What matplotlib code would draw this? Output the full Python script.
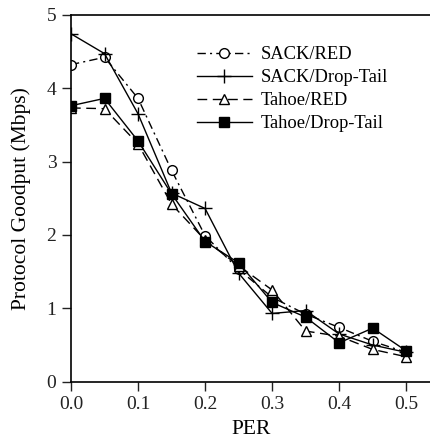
import matplotlib
matplotlib.use("Agg")
import matplotlib.pyplot as plt

plt.rcParams['font.family'] = ['Liberation Serif', 'DejaVu Serif']

per = [0.0, 0.05, 0.1, 0.15, 0.2, 0.25, 0.3, 0.35, 0.4, 0.45, 0.5]
sack_red = [4.32, 4.42, 3.86, 2.88, 1.99, 1.53, 1.15, 0.92, 0.74, 0.55, 0.40]
sack_droptail = [4.74, 4.47, 3.65, 2.57, 2.36, 1.48, 0.93, 0.97, 0.65, 0.50, 0.40]
tahoe_red = [3.73, 3.72, 3.24, 2.42, 1.93, 1.58, 1.25, 0.69, 0.62, 0.44, 0.34]
tahoe_droptail = [3.76, 3.86, 3.28, 2.56, 1.91, 1.62, 1.08, 0.88, 0.53, 0.73, 0.42]

xticks = [0.0, 0.1, 0.2, 0.3, 0.4, 0.5]
xticklabels = ["0.0", "0.1", "0.2", "0.3", "0.4", "0.5"]
yticks = [0, 1, 2, 3, 4, 5]

fig = plt.figure(figsize=(4.31, 4.42), dpi=100)
ax = fig.add_axes([0.1647, 0.1364, 0.8353, 0.8303])

lw = 1.0
ax.plot(per, sack_red, color='black', lw=lw, linestyle=(0, (6, 3, 1.5, 3)),
        marker='o', markersize=7, markerfacecolor='white', markeredgecolor='black',
        markeredgewidth=1.0, label='SACK/RED')
ax.plot(per, sack_droptail, color='black', lw=lw, linestyle='-',
        marker='+', markersize=10, markeredgewidth=1.0, label='SACK/Drop-Tail')
ax.plot(per, tahoe_red, color='black', lw=lw, linestyle=(0, (7, 4)),
        marker='^', markersize=7, markerfacecolor='white', markeredgecolor='black',
        markeredgewidth=1.0, label='Tahoe/RED')
ax.plot(per, tahoe_droptail, color='black', lw=lw, linestyle='-',
        marker='s', markersize=7, markerfacecolor='black', markeredgecolor='black',
        label='Tahoe/Drop-Tail')

ax.set_xlim(0, 0.537)
ax.set_ylim(0, 5)
ax.set_xticks(xticks)
ax.set_xticklabels(xticklabels)
ax.set_yticks(yticks)
ax.tick_params(direction='out', length=6.5, width=1.0, labelsize=14, colors='#222222',
               pad=4)
for s in ['left', 'bottom', 'top']:
    ax.spines[s].set_linewidth(1.2)
ax.spines['right'].set_visible(False)

ax.set_xlabel('PER', fontsize=15.5, labelpad=5)
ax.set_ylabel('Protocol Goodput (Mbps)', fontsize=15.5, labelpad=11)

leg = ax.legend(loc='upper left', bbox_to_anchor=(0.323, 0.94), frameon=False,
                fontsize=13.3, handlelength=3.0, handletextpad=0.5,
                labelspacing=0.33, borderpad=0)

fig.savefig('out.png', dpi=100)
